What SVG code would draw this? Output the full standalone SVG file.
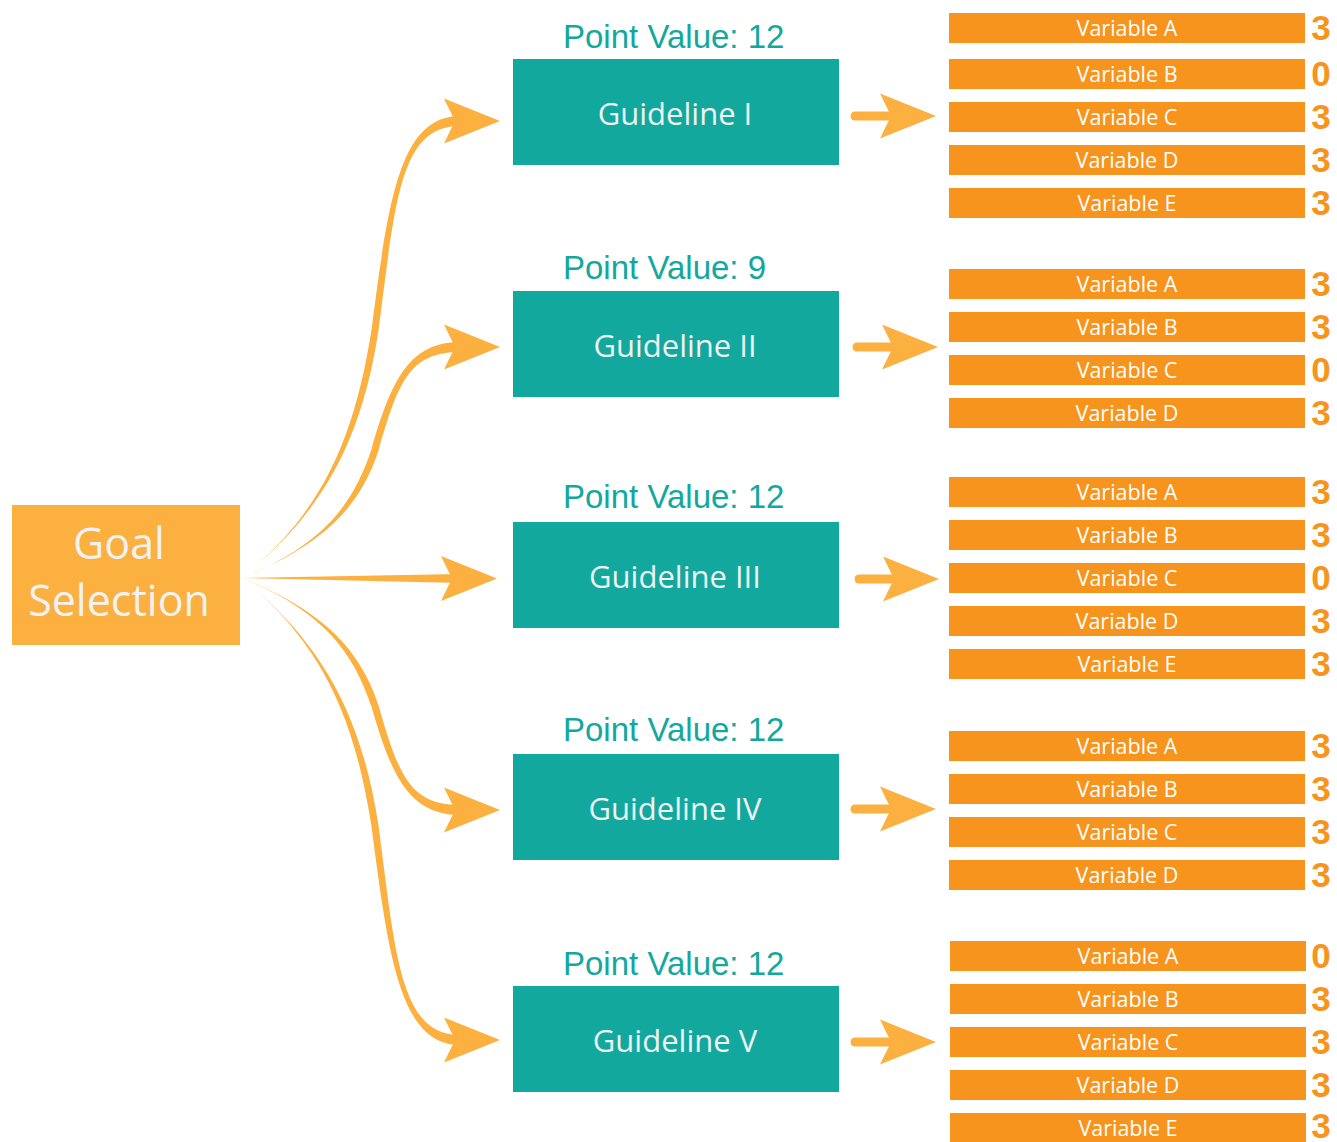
<svg xmlns="http://www.w3.org/2000/svg" xmlns:xlink="http://www.w3.org/1999/xlink" width="1337" height="1142" viewBox="0 0 1337 1142">
  <style>
    .goal { fill: #FBB040; }
    .goal-text { font-family: "Open Sans", "Noto Sans", sans-serif; font-size: 43px; fill: #F2F2F2; text-anchor: middle; }
    .guide { fill: #13A89E; }
    .guide-text { font-family: "Open Sans", "Noto Sans", sans-serif; font-size: 31px; fill: #EEF2F1; text-anchor: middle; }
    .points { font-family: "Liberation Sans", Arial, sans-serif; font-size: 33px; fill: #13A89E; }
    .bar { fill: #F7941D; }
    .bar-text { font-family: "Open Sans", "Noto Sans", sans-serif; font-size: 21.5px; fill: #FFFFFF; text-anchor: middle; }
    .score { font-family: "Liberation Sans", Arial, sans-serif; font-weight: bold; font-size: 35px; fill: #F7941D; text-anchor: middle; }
    .flow { fill: #FBB040; }
    .stub { stroke: #FBB040; stroke-width: 9; stroke-linecap: round; fill: none; }
  </style>
  <defs>
    <!-- arrowhead, tip at origin pointing right -->
    <path id="head" d="M0,0 L-56,-22.5 L-45,0 L-56,22.5 Z" fill="#FBB040"/>
  </defs>

  <rect width="1337" height="1142" fill="#FFFFFF"/>

  <!-- connectors -->
  <g id="connectors">
    <!-- tapered sweeps from Goal Selection -->
    <path class="flow" d="M243,578 C310,520 358.5,460.45 378.5,330.45 C395.5,200.45 400,126 460,126 L460,116 C400,116 388.5,199.55 371.5,329.55 C351.5,459.55 310,520 243,578 Z"/>
    <use xlink:href="#head" href="#head" transform="translate(500,121)"/>

    <path class="flow" d="M243,578 C320,545 358.4,511 378.4,451 C398.4,381 410,352 460,352 L460,342 C410,342 391.6,379 371.6,449 C351.6,509 320,545 243,578 Z"/>
    <use xlink:href="#head" href="#head" transform="translate(500,347)"/>

    <path class="flow" d="M243,578 L460,574 L460,583 Z"/>
    <use xlink:href="#head" href="#head" transform="translate(497,578.5)"/>

    <path class="flow" d="M243,578 C320,611 351.6,647 371.6,707 C391.6,777 410,815 460,815 L460,805 C410,805 398.4,775 378.4,705 C358.4,645 320,611 243,578 Z"/>
    <use xlink:href="#head" href="#head" transform="translate(500,810)"/>

    <path class="flow" d="M243,578 C310,636 351.5,696.45 371.5,826.45 C388.5,956.45 400,1045 460,1045 L460,1035 C400,1035 395.5,955.55 378.5,825.55 C358.5,695.55 310,636 243,578 Z"/>
    <use xlink:href="#head" href="#head" transform="translate(500,1040)"/>

    <!-- guideline to variables -->
    <line class="stub" x1="855" y1="116" x2="900" y2="116"/>
    <use xlink:href="#head" href="#head" transform="translate(936,116)"/>
    <line class="stub" x1="857" y1="347" x2="902" y2="347"/>
    <use xlink:href="#head" href="#head" transform="translate(938,347)"/>
    <line class="stub" x1="859" y1="579" x2="904" y2="579"/>
    <use xlink:href="#head" href="#head" transform="translate(939,579)"/>
    <line class="stub" x1="855" y1="809" x2="900" y2="809"/>
    <use xlink:href="#head" href="#head" transform="translate(936,809)"/>
    <line class="stub" x1="855" y1="1042" x2="900" y2="1042"/>
    <use xlink:href="#head" href="#head" transform="translate(936,1042)"/>
  </g>

  <!-- root -->
  <g id="goal-selection">
    <rect class="goal" x="12" y="505" width="228" height="140"/>
    <text class="goal-text" x="119" y="559">Goal</text>
    <text class="goal-text" x="119" y="616">Selection</text>
  </g>

  <!-- guidelines -->
  <g id="guideline-1">
    <text class="points" x="563" y="48">Point Value: 12</text>
    <rect class="guide" x="513" y="59" width="326" height="106"/>
    <text class="guide-text" x="675" y="125">Guideline I</text>
  </g>
  <g id="guideline-2">
    <text class="points" x="563" y="279">Point Value: 9</text>
    <rect class="guide" x="513" y="291" width="326" height="106"/>
    <text class="guide-text" x="675" y="357">Guideline II</text>
  </g>
  <g id="guideline-3">
    <text class="points" x="563" y="508">Point Value: 12</text>
    <rect class="guide" x="513" y="522" width="326" height="106"/>
    <text class="guide-text" x="675" y="588">Guideline III</text>
  </g>
  <g id="guideline-4">
    <text class="points" x="563" y="741">Point Value: 12</text>
    <rect class="guide" x="513" y="754" width="326" height="106"/>
    <text class="guide-text" x="675" y="820">Guideline IV</text>
  </g>
  <g id="guideline-5">
    <text class="points" x="563" y="975">Point Value: 12</text>
    <rect class="guide" x="513" y="986" width="326" height="106"/>
    <text class="guide-text" x="675" y="1052">Guideline V</text>
  </g>

  <!-- variables, guideline I -->
  <g id="g1-var-a"><rect class="bar" x="949" y="13" width="356" height="30"/><text class="bar-text" x="1127" y="36">Variable A</text><text class="score" x="1321" y="40">3</text></g>
  <g id="g1-var-b"><rect class="bar" x="949" y="59" width="356" height="30"/><text class="bar-text" x="1127" y="82">Variable B</text><text class="score" x="1321" y="86">0</text></g>
  <g id="g1-var-c"><rect class="bar" x="949" y="102" width="356" height="30"/><text class="bar-text" x="1127" y="125">Variable C</text><text class="score" x="1321" y="129">3</text></g>
  <g id="g1-var-d"><rect class="bar" x="949" y="145" width="356" height="30"/><text class="bar-text" x="1127" y="168">Variable D</text><text class="score" x="1321" y="172">3</text></g>
  <g id="g1-var-e"><rect class="bar" x="949" y="188" width="356" height="30"/><text class="bar-text" x="1127" y="211">Variable E</text><text class="score" x="1321" y="215">3</text></g>

  <!-- variables, guideline II -->
  <g id="g2-var-a"><rect class="bar" x="949" y="269" width="356" height="30"/><text class="bar-text" x="1127" y="292">Variable A</text><text class="score" x="1321" y="296">3</text></g>
  <g id="g2-var-b"><rect class="bar" x="949" y="312" width="356" height="30"/><text class="bar-text" x="1127" y="335">Variable B</text><text class="score" x="1321" y="339">3</text></g>
  <g id="g2-var-c"><rect class="bar" x="949" y="355" width="356" height="30"/><text class="bar-text" x="1127" y="378">Variable C</text><text class="score" x="1321" y="382">0</text></g>
  <g id="g2-var-d"><rect class="bar" x="949" y="398" width="356" height="30"/><text class="bar-text" x="1127" y="421">Variable D</text><text class="score" x="1321" y="425">3</text></g>

  <!-- variables, guideline III -->
  <g id="g3-var-a"><rect class="bar" x="949" y="477" width="356" height="30"/><text class="bar-text" x="1127" y="500">Variable A</text><text class="score" x="1321" y="504">3</text></g>
  <g id="g3-var-b"><rect class="bar" x="949" y="520" width="356" height="30"/><text class="bar-text" x="1127" y="543">Variable B</text><text class="score" x="1321" y="547">3</text></g>
  <g id="g3-var-c"><rect class="bar" x="949" y="563" width="356" height="30"/><text class="bar-text" x="1127" y="586">Variable C</text><text class="score" x="1321" y="590">0</text></g>
  <g id="g3-var-d"><rect class="bar" x="949" y="606" width="356" height="30"/><text class="bar-text" x="1127" y="629">Variable D</text><text class="score" x="1321" y="633">3</text></g>
  <g id="g3-var-e"><rect class="bar" x="949" y="649" width="356" height="30"/><text class="bar-text" x="1127" y="672">Variable E</text><text class="score" x="1321" y="676">3</text></g>

  <!-- variables, guideline IV -->
  <g id="g4-var-a"><rect class="bar" x="949" y="731" width="356" height="30"/><text class="bar-text" x="1127" y="754">Variable A</text><text class="score" x="1321" y="758">3</text></g>
  <g id="g4-var-b"><rect class="bar" x="949" y="774" width="356" height="30"/><text class="bar-text" x="1127" y="797">Variable B</text><text class="score" x="1321" y="801">3</text></g>
  <g id="g4-var-c"><rect class="bar" x="949" y="817" width="356" height="30"/><text class="bar-text" x="1127" y="840">Variable C</text><text class="score" x="1321" y="844">3</text></g>
  <g id="g4-var-d"><rect class="bar" x="949" y="860" width="356" height="30"/><text class="bar-text" x="1127" y="883">Variable D</text><text class="score" x="1321" y="887">3</text></g>

  <!-- variables, guideline V -->
  <g id="g5-var-a"><rect class="bar" x="950" y="941" width="356" height="30"/><text class="bar-text" x="1128" y="964">Variable A</text><text class="score" x="1321" y="968">0</text></g>
  <g id="g5-var-b"><rect class="bar" x="950" y="984" width="356" height="30"/><text class="bar-text" x="1128" y="1007">Variable B</text><text class="score" x="1321" y="1011">3</text></g>
  <g id="g5-var-c"><rect class="bar" x="950" y="1027" width="356" height="30"/><text class="bar-text" x="1128" y="1050">Variable C</text><text class="score" x="1321" y="1054">3</text></g>
  <g id="g5-var-d"><rect class="bar" x="950" y="1070" width="356" height="30"/><text class="bar-text" x="1128" y="1093">Variable D</text><text class="score" x="1321" y="1097">3</text></g>
  <g id="g5-var-e"><rect class="bar" x="950" y="1113" width="356" height="30"/><text class="bar-text" x="1128" y="1136">Variable E</text><text class="score" x="1321" y="1138">3</text></g>
</svg>
